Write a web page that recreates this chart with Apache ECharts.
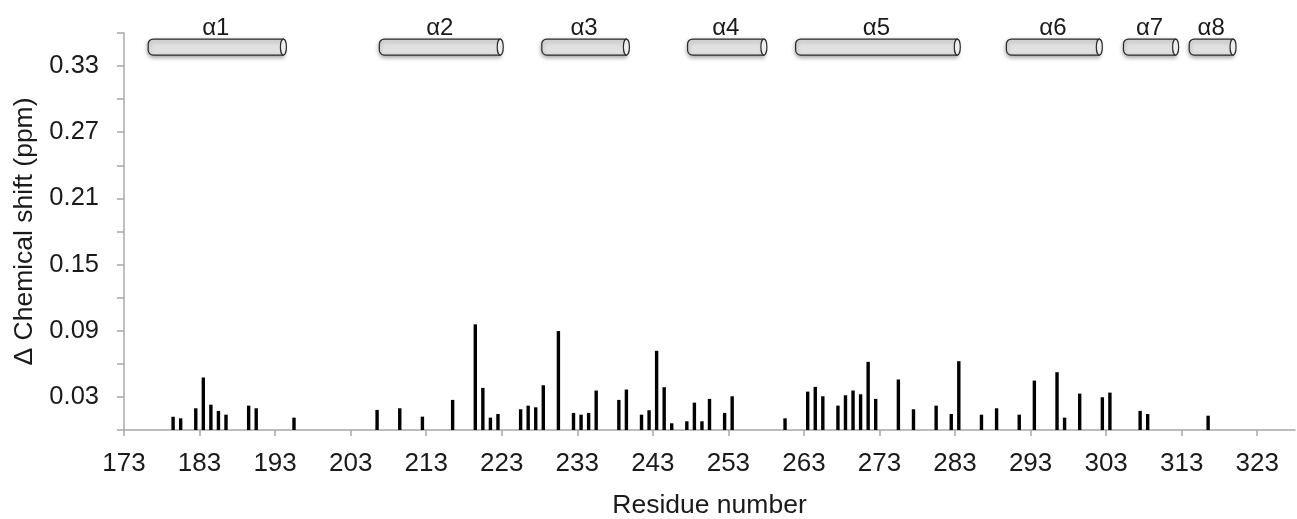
<!DOCTYPE html>
<html>
<head>
<meta charset="utf-8">
<script src="https://cdn.jsdelivr.net/npm/echarts@6/dist/echarts.min.js"></script>
<style>
html,body{margin:0;padding:0;background:#fff;}
#chart{width:1297px;height:519px;}
</style>
</head>
<body>
<div id="chart"></div>
<script>
// Residue numbers (each bar sits in the middle of its residue slot)
const residues = [179,180,182,183,184,185,186,189,190,195,206,209,212,216,219,220,221,222,225,226,227,228,230,232,233,234,235,238,239,241,242,243,244,245,247,248,249,250,252,253,260,263,264,265,267,268,269,270,271,272,275,277,280,282,283,286,288,291,293,296,297,299,302,303,307,308,316];
const shifts   = [0.012,0.0106,0.0197,0.0476,0.023,0.0173,0.0139,0.0221,0.0197,0.0112,0.0182,0.0197,0.0121,0.0273,0.0958,0.0382,0.0112,0.0145,0.0188,0.0221,0.0206,0.0406,0.0897,0.0155,0.0139,0.0155,0.0358,0.0273,0.0367,0.0139,0.0179,0.0718,0.0388,0.0061,0.0079,0.0248,0.0079,0.0282,0.0155,0.0306,0.0106,0.0348,0.0391,0.0306,0.0221,0.0315,0.0358,0.0324,0.0618,0.0282,0.0458,0.0188,0.0221,0.0145,0.0624,0.0139,0.0197,0.0139,0.0448,0.0524,0.0112,0.033,0.0297,0.0339,0.0173,0.0145,0.013];
const xTickLabels = [173,183,193,203,213,223,233,243,253,263,273,283,293,303,313,323];
const yTickValues = [0.03,0.09,0.15,0.21,0.27,0.33];
const helixNames  = ['α1','α2','α3','α4','α5','α6','α7','α8'];
const helixStart  = [176.2,206.8,228.3,247.6,261.9,289.8,305.3,314.0];
const helixEnd    = [194.1,222.8,239.5,257.7,283.3,302.1,312.2,319.8];

const FONT = "'Liberation Sans', Arial, Helvetica, sans-serif";
const HELIX_TOP = 0.3545, HELIX_BOTTOM = 0.3400;

const chart = echarts.init(document.getElementById('chart'));
const barData = residues.map((r, i) => [r + 0.5, shifts[i]]);
const helixData = helixNames.map((n, i) => ({name: n, value: [helixStart[i], helixEnd[i]]}));

chart.setOption({
  animation: false,
  backgroundColor: '#fff',
  grid: {left: 124, right: 2, top: 33, bottom: 89, containLabel: false, outerBoundsMode: 'none'},
  xAxis: {
    type: 'value', min: 173, max: 328,
    name: 'Residue number', nameLocation: 'middle', nameGap: 62,
    nameTextStyle: {fontFamily: FONT, fontSize: 26.5, color: '#1a1a1a'},
    axisLine: {show: true, lineStyle: {color: '#a8a8a8', width: 1.5}},
    axisTick: {show: true, length: 6, lineStyle: {color: '#a8a8a8', width: 1.5}, customValues: xTickLabels},
    axisLabel: {fontFamily: FONT, fontSize: 26, color: '#1a1a1a', margin: 21, customValues: xTickLabels},
    splitLine: {show: false}
  },
  yAxis: {
    type: 'value', min: 0, max: 0.36, interval: 0.03,
    name: 'Δ Chemical shift (ppm)', nameLocation: 'middle', nameGap: 82,
    nameTextStyle: {fontFamily: FONT, fontSize: 26.5, color: '#1a1a1a'},
    axisLine: {show: true, lineStyle: {color: '#a8a8a8', width: 1.5}},
    axisTick: {show: true, length: 7, lineStyle: {color: '#a8a8a8', width: 1.5}},
    axisLabel: {
      fontFamily: FONT, fontSize: 25.5, color: '#1a1a1a', margin: 25,
      formatter: v => {
        const hit = yTickValues.find(t => Math.abs(t - v) < 1e-6);
        return hit !== undefined ? hit.toFixed(2) : '';
      }
    },
    splitLine: {show: false}
  },
  series: [
    {
      type: 'bar', data: barData, barWidth: 3.4,
      itemStyle: {color: '#000'}
    },
    {
      type: 'custom', clip: false, data: helixData,
      renderItem: function (params, api) {
        const s = api.coord([api.value(0), HELIX_TOP]);
        const e = api.coord([api.value(1), HELIX_BOTTOM]);
        const x0 = s[0], x1 = e[0], yt = s[1], yb = e[1], h = yb - yt;
        const name = helixNames[params.dataIndex];
        return {
          type: 'group',
          children: [
            {type: 'rect', shape: {x: x0, y: yt, width: x1 - x0, height: h, r: [5, 0, 0, 5]},
             style: {fill: '#e1e1e1', stroke: '#2a2a2a', lineWidth: 1.2,
                     shadowBlur: 4, shadowOffsetY: 2, shadowColor: 'rgba(0,0,0,0.35)'}},
            {type: 'ellipse', shape: {cx: x1, cy: (yt + yb) / 2, rx: 3, ry: h / 2},
             style: {fill: '#eeeeee', stroke: '#2a2a2a', lineWidth: 1.2}},
            {type: 'text', style: {text: name, x: (x0 + x1) / 2, y: yt + 1, align: 'center',
             verticalAlign: 'bottom', fontFamily: FONT, fontSize: 24, fill: '#1a1a1a'}}
          ]
        };
      }
    }
  ]
});
</script>
</body>
</html>
